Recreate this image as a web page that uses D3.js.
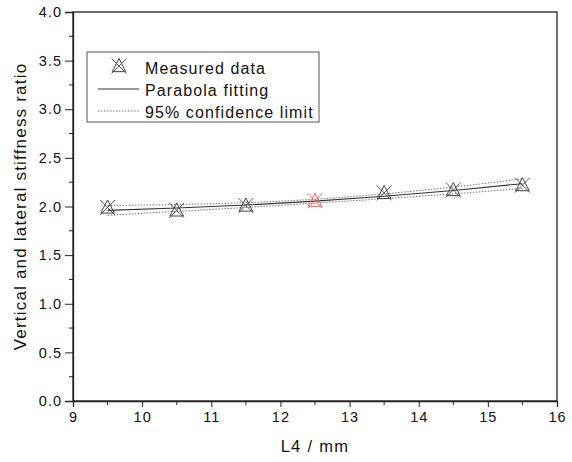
<!DOCTYPE html>
<html><head><meta charset="utf-8">
<script src="https://cdn.jsdelivr.net/npm/d3@7"></script>
<style>body{margin:0;background:#fff}svg{font-family:"Liberation Sans",Arial,sans-serif}</style>
</head><body>
<svg id="c" width="572" height="462"></svg>
<script>
const xValues = [9.5, 10.5, 11.5, 12.5, 13.5, 14.5, 15.5];
const measured = [1.99, 1.96, 2.01, 2.06, 2.14, 2.17, 2.22];
const fitValues = [1.96, 1.985, 2.015, 2.055, 2.105, 2.165, 2.235];
const upperLimit = [2.01, 2.02, 2.04, 2.075, 2.13, 2.2, 2.285];
const lowerLimit = [1.91, 1.95, 1.99, 2.035, 2.08, 2.13, 2.185];
const highlightIndex = 3;
const xTicks = [9, 10, 11, 12, 13, 14, 15, 16];
const yTicks = [0, 0.5, 1, 1.5, 2, 2.5, 3, 3.5, 4];
const legendLabels = ["Measured data", "Parabola fitting", "95% confidence limit"];

const svg = d3.select("#c");
const L = 73, R = 557, T = 12, B = 401;
const x = d3.scaleLinear().domain([9, 16]).range([L, R]);
const y = d3.scaleLinear().domain([0, 4]).range([B, T]);

svg.append("rect").attr("x", L).attr("y", T).attr("width", R - L).attr("height", B - T)
  .attr("fill", "none").attr("stroke", "#222").attr("stroke-width", 1.3);

const xAxis = d3.axisBottom(x).tickValues(xTicks).tickSize(6).tickPadding(5).tickFormat(d3.format("d"));
const gx = svg.append("g").attr("transform", `translate(0,${B})`).call(xAxis);
gx.append("g").selectAll("line").data(d3.range(9.5, 16, 1)).join("line")
  .attr("x1", d => x(d)).attr("x2", d => x(d)).attr("y1", 0).attr("y2", 4).attr("stroke", "#222");
const yAxis = d3.axisLeft(y).tickValues(yTicks).tickSize(8).tickPadding(3).tickFormat(d3.format(".1f"));
const gy = svg.append("g").attr("transform", `translate(${L},0)`).call(yAxis);
gy.append("g").selectAll("line").data(d3.range(0.25, 4, 0.5)).join("line")
  .attr("y1", d => y(d)).attr("y2", d => y(d)).attr("x1", 0).attr("x2", -4).attr("stroke", "#222");
[gx, gy].forEach(g => {
  g.select(".domain").attr("stroke", "#222").attr("stroke-width", 1.3);
  g.selectAll(".tick line").attr("stroke", "#222");
  g.selectAll("text").attr("font-size", 14.5).attr("letter-spacing", "1px").attr("fill", "#111")
    .attr("font-family", "Liberation Sans, Arial, sans-serif");
});

svg.append("text").attr("x", (L + R) / 2).attr("y", 452).attr("text-anchor", "middle")
  .attr("font-size", 16.5).attr("letter-spacing", "1.3px").attr("fill", "#111").text("L4 / mm");
svg.append("text").attr("transform", `translate(26,${(T + B) / 2}) rotate(-90)`).attr("text-anchor", "middle")
  .attr("font-size", 17).attr("letter-spacing", "1.2px").attr("fill", "#111").text("Vertical and lateral stiffness ratio");

const line = d3.line().x((d, i) => x(xValues[i])).y(d => y(d)).curve(d3.curveMonotoneX);
svg.append("path").attr("d", line(fitValues)).attr("fill", "none").attr("stroke", "#333").attr("stroke-width", 1.1);
[upperLimit, lowerLimit].forEach(arr => {
  svg.append("path").attr("d", line(arr)).attr("fill", "none").attr("stroke", "#666")
    .attr("stroke-width", 0.9).attr("stroke-dasharray", "1.5,1.5");
});

function marker(g, cx, cy, color) {
  const s = 7.5;
  g.append("path").attr("d", `M${cx},${cy - s} L${cx + s * 0.9},${cy + s * 0.75} L${cx - s * 0.9},${cy + s * 0.75} Z`)
    .attr("fill", "none").attr("stroke", color).attr("stroke-width", 1);
  g.append("path").attr("d", `M${cx - s},${cy - s} L${cx + s},${cy + s} M${cx + s},${cy - s} L${cx - s},${cy + s}`)
    .attr("fill", "none").attr("stroke", color).attr("stroke-width", 0.9);
}
const mg = svg.append("g");
measured.forEach((v, i) => marker(mg, x(xValues[i]), y(v), i === highlightIndex ? "#f06060" : "#444"));

const lg = svg.append("g");
lg.append("rect").attr("x", 87).attr("y", 52).attr("width", 232).attr("height", 70)
  .attr("fill", "#fff").attr("stroke", "#555").attr("stroke-width", 1);
marker(lg, 119, 66, "#444");
lg.append("line").attr("x1", 98).attr("x2", 139).attr("y1", 89).attr("y2", 89).attr("stroke", "#333").attr("stroke-width", 1.1);
lg.append("line").attr("x1", 98).attr("x2", 139).attr("y1", 111).attr("y2", 111).attr("stroke", "#666")
  .attr("stroke-width", 0.9).attr("stroke-dasharray", "1.5,1.5");
legendLabels.forEach((t, i) => {
  lg.append("text").attr("x", 145).attr("y", 74 + i * 22).attr("font-size", 16).attr("letter-spacing", "1.1px")
    .attr("fill", "#111").text(t);
});
</script>
</body></html>
